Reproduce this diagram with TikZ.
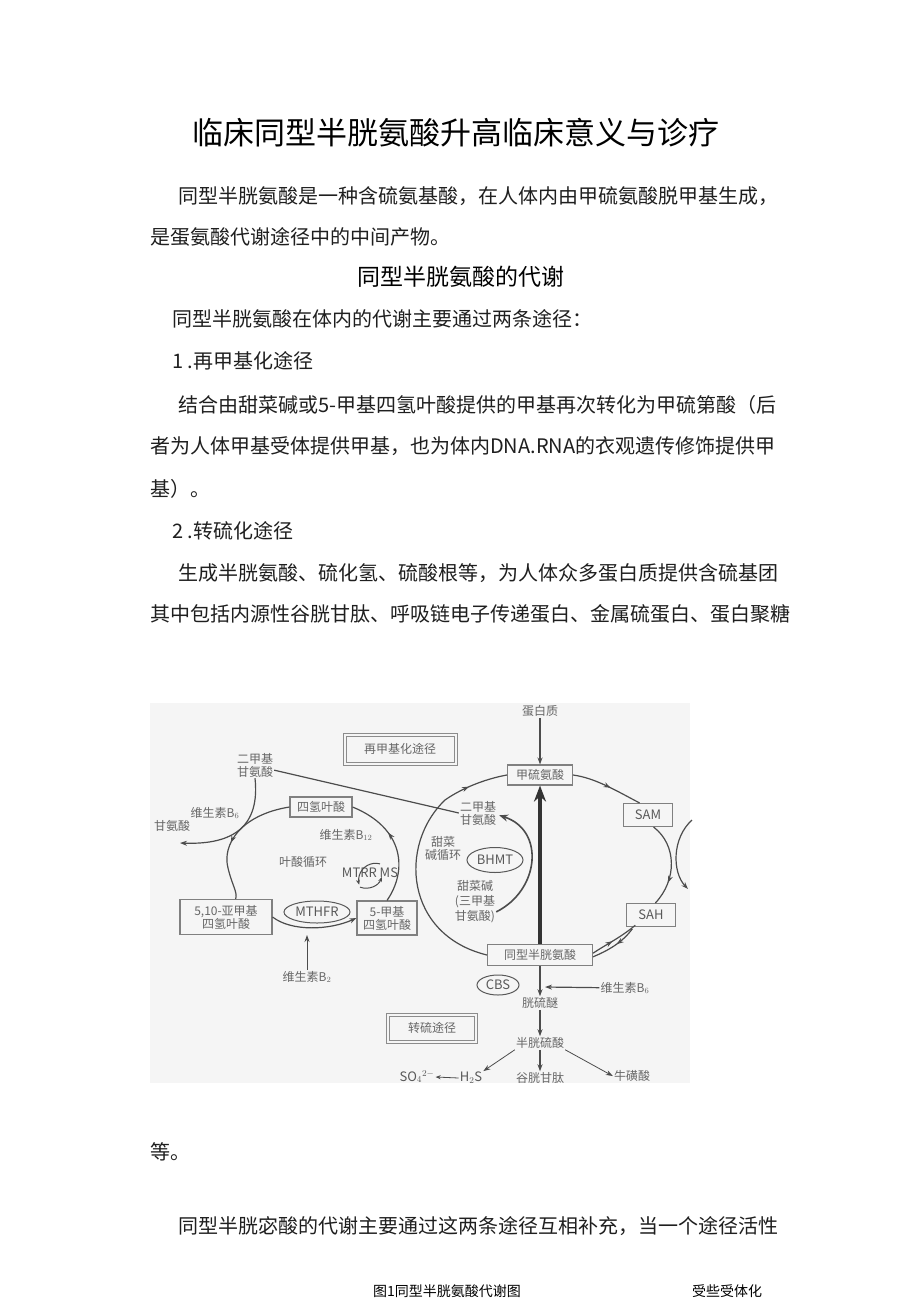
\documentclass[tikz,border=0pt]{standalone}
\usepackage{fontspec}
\setmainfont{Noto Sans CJK SC}
\usetikzlibrary{arrows.meta,shapes.geometric,decorations.markings}
\tikzset{
  body/.style={anchor=west, inner sep=0pt, font=\fontsize{20}{24}\selectfont, text=black!88},
  dtext/.style={font=\fontsize{12}{14}\selectfont, text=black!60, inner sep=1pt, align=center},
  ltext/.style={font=\fontsize{13}{15}\selectfont, text=black!65, inner sep=1pt},
  dbox/.style={dtext, draw=black!50, line width=1.1pt, inner sep=2pt},
  dbl/.style={dtext, draw=black!45, line width=0.8pt, inner sep=3pt},
  inbox/.style={draw=black!45, line width=0.8pt},
  enz/.style={ltext, ellipse, draw=black!65, line width=1pt, inner sep=0pt},
  conn/.style={draw=black!70, line width=1.2pt},
  arr/.style={conn, -{Stealth[length=7pt,width=5pt]}},
  midarrow/.style={postaction={decorate, decoration={markings, mark=at position #1 with {\arrow{Stealth[length=7pt,width=5pt]}}}}}
}
\begin{document}
\begin{tikzpicture}[x=1pt,y=-1pt]
\useasboundingbox (0,0) rectangle (920,1301);
\fill[white] (0,0) rectangle (920,1301);

% ---------- text ----------
\node[font=\fontsize{31}{36}\selectfont, inner sep=0pt] (title) at (456,133) {临床同型半胱氨酸升高临床意义与诊疗};
\node[body] (p1a) at (178,196) {同型半胱氨酸是一种含硫氨基酸，在人体内由甲硫氨酸脱甲基生成，};
\node[body] (p1b) at (150,237) {是蛋氨酸代谢途径中的中间产物。};
\node[font=\fontsize{23}{27}\selectfont, inner sep=0pt] (h2) at (461,277) {同型半胱氨酸的代谢};
\node[body] (p2) at (172,319) {同型半胱氨酸在体内的代谢主要通过两条途径：};
\node[body] (p3) at (172,361) {1 .再甲基化途径};
\node[body] (p4a) at (178,405) {结合由甜菜碱或5-甲基四氢叶酸提供的甲基再次转化为甲硫第酸（后};
\node[body] (p4b) at (150,446) {者为人体甲基受体提供甲基，也为体内DNA.RNA的衣观遗传修饰提供甲};
\node[body] (p4c) at (150,489) {基）。};
\node[body] (p5) at (172,531) {2 .转硫化途径};
\node[body] (p6a) at (178,573) {生成半胱氨酸、硫化氢、硫酸根等，为人体众多蛋白质提供含硫基团};
\node[body] (p6b) at (150,614) {其中包括内源性谷胱甘肽、呼吸链电子传递蛋白、金属硫蛋白、蛋白聚糖};
\node[body] (p7) at (150,1152) {等。};
\node[body] (p8) at (178,1226) {同型半胱宓酸的代谢主要通过这两条途径互相补充，当一个途径活性};
\node[font=\fontsize{14}{16}\selectfont, inner sep=0pt] (cap) at (447,1291) {图1同型半胱氨酸代谢图};
\node[font=\fontsize{14}{16}\selectfont, inner sep=0pt] (cap2) at (727,1291) {受些受体化};

% ---------- diagram background ----------
\fill[black!4] (150,703) rectangle (690,1083);

% ---------- diagram nodes ----------
\node[dtext] (prot) at (540,711) {蛋白质};
\node[dbox, minimum width=65pt, minimum height=20pt] (met) at (540,775) {甲硫氨酸};
\node[dbox, ltext, minimum width=49pt, minimum height=23pt] (sam) at (648,815) {SAM};
\node[dbox, ltext, minimum width=49pt, minimum height=23pt] (sah) at (651,915) {SAH};
\node[dbox, minimum width=105pt, minimum height=21pt] (hcy) at (540,955) {同型半胱氨酸};
\node[dbl, minimum width=114pt, minimum height=32pt] (remeth) at (400,749) {再甲基化途径};
\draw[inbox] ([xshift=3.5pt,yshift=-3.5pt]remeth.north west) rectangle ([xshift=-3.5pt,yshift=3.5pt]remeth.south east);
\node[dbl, minimum width=91pt, minimum height=30pt] (transs) at (432,1028) {转硫途径};
\draw[inbox] ([xshift=3.5pt,yshift=-3.5pt]transs.north west) rectangle ([xshift=-3.5pt,yshift=3.5pt]transs.south east);

\node[dbox, minimum width=62pt, minimum height=20pt] (thf) at (321,807) {四氢叶酸};
\node[dbox, minimum width=92pt, minimum height=35pt, inner sep=1pt, font=\fontsize{12}{13}\selectfont] (mthf510) at (226,917) {5,10-亚甲基\\四氢叶酸};
\node[dbox, minimum width=60pt, minimum height=34pt, inner sep=1pt, font=\fontsize{12}{13}\selectfont] (mthf5) at (387,918) {5-甲基\\四氢叶酸};
\node[enz, minimum width=66pt, minimum height=22pt] (mthfr) at (317,912) {MTHFR};
\node[enz, minimum width=56pt, minimum height=25pt] (bhmt) at (495,860) {BHMT};
\node[enz, minimum width=42pt, minimum height=20pt] (cbs) at (498,985) {CBS};

\node[dtext, font=\fontsize{12}{13}\selectfont] (dmg1) at (255,765) {二甲基\\甘氨酸};
\node[dtext] (gly) at (172,826) {甘氨酸};
\node[dtext] (b6a) at (215,813) {维生素B$_6$};
\node[dtext, font=\fontsize{12}{13}\selectfont] (dmg2) at (478,813) {二甲基\\甘氨酸};
\node[dtext] (b12) at (346,835) {维生素B$_{12}$};
\node[dtext] (folc) at (303,862) {叶酸循环};
\node[ltext] (mtrr) at (370,873) {MTRR MS};
\node[dtext] (b2) at (307,977) {维生素B$_2$};
\node[dtext, font=\fontsize{12}{13}\selectfont] (betc) at (443,848) {甜菜\\碱循环};
\node[dtext, font=\fontsize{12}{15}\selectfont] (bet) at (475,902) {甜菜碱\\(三甲基\\甘氨酸)};
\node[dtext] (cysth) at (540,1003) {胱硫醚};
\node[dtext] (b6b) at (625,988) {维生素B$_6$};
\node[dtext] (cys) at (540,1043) {半胱硫酸};
\node[dtext] (gsh) at (540,1078) {谷胱甘肽};
\node[dtext] (tau) at (632,1076) {牛磺酸};
\node[ltext] (h2s) at (471,1078) {H$_2$S};
\node[ltext] (so4) at (417,1077) {SO$_4{}^{2-}$};

\coordinate (glyend) at (180,843);
\coordinate (b2end) at (307,935);
\coordinate (b6end) at (545,987);
\coordinate (edgeA) at (692,820);
\coordinate (edgeB) at (688,889);

% ---------- connectors ----------
\draw[arr] (prot) -- (met);
% big methionine cycle
\draw[conn, midarrow=0.85] (hcy.west) .. controls (405,935) and (398,845) .. (445,800) .. controls (465,786) and (490,778) .. (met.west);
\draw[conn, midarrow=0.55] (met.east) .. controls (595,778) and (615,790) .. (sam.125);
\draw[conn, midarrow=0.72] (sam.-65) .. controls (677,845) and (677,880) .. (sah.70);
\draw[conn, midarrow=0.45] ([yshift=1.8pt]hcy.east) .. controls (605,945) and (620,938) .. ([xshift=1.5pt,yshift=1.8pt]sah.215);
\draw[conn, midarrow=0.45] ([xshift=-1.5pt,yshift=-1.8pt]sah.215) .. controls (622,943) and (607,951) .. ([yshift=-1.8pt]hcy.east);
\draw[conn, -{Stealth[length=7pt,width=5pt]}] (edgeA) .. controls (672,838) and (672,872) .. (edgeB);
\draw[draw=black!80, line width=3.5pt, -{Stealth[length=16pt,width=12pt]}] (hcy.north) -- (met.south);
% betaine
\draw[conn, line width=1.6pt, -{Stealth[length=9pt,width=7pt]}, shorten >=2pt] (bet.-25) .. controls (540,890) and (545,830) .. (dmg2.-5);
\draw[conn] (dmg1.-15) -- (dmg2.west);
\draw[arr] (dmg1.south) .. controls (260,825) and (235,845) .. (glyend);
% folate cycle
\draw[conn, midarrow=0.55] (thf.west) .. controls (240,815) and (222,845) .. (228,868) .. controls (232,885) and (238,893) .. (mthf510.62);
\draw[conn, midarrow=0.62] (mthf5.north) .. controls (408,870) and (404,828) .. (thf.east);
\draw[conn, -{Stealth[length=7pt,width=5pt]}] (mthf510.east) .. controls (292,932) and (330,930) .. (mthf5.west);
\draw[arr, line width=0.9pt] (b2) -- (b2end);
\draw[conn, line width=1pt, -{Stealth[length=5pt,width=4pt]}] (mtrr.north) ++(10,-3) arc[start angle=-75, end angle=-195, radius=17];
\draw[conn, line width=1pt, -{Stealth[length=5pt,width=4pt]}] (mtrr.south) ++(-10,8) arc[start angle=110, end angle=20, radius=17];
% transsulfuration
\draw[arr] (hcy.south) -- (cysth);
\draw[arr] (b6b) -- (b6end);
\draw[arr] (cysth) -- (cys);
\draw[arr] (cys) -- (gsh);
\draw[arr, line width=0.8pt] (cys.south west) -- (h2s.north east);
\draw[arr, line width=0.8pt] (cys.south east) -- (tau.west);
\draw[arr, line width=0.8pt, -{Stealth[length=5pt,width=4pt]}] (h2s.west) -- (so4.east);
\end{tikzpicture}
\end{document}
